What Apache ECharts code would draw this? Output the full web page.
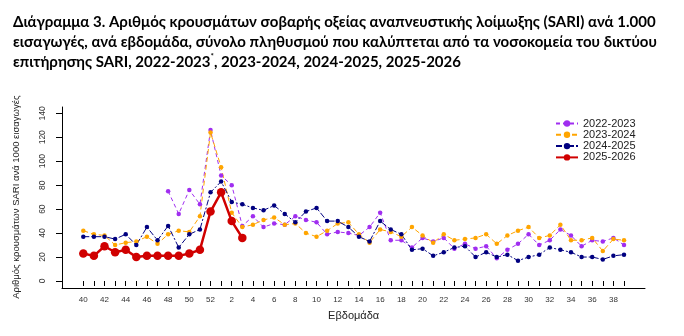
<!DOCTYPE html>
<html>
<head>
<meta charset="utf-8">
<script src="https://cdn.jsdelivr.net/npm/echarts@6/dist/echarts.min.js"></script>
<style>
html,body{margin:0;padding:0;background:#fff;}
#c{width:684px;height:336px;}
</style>
</head>
<body>
<div id="c"></div>
<script>
// Weeks: 40..52, 1..39
const weeks = ["40","41","42","43","44","45","46","47","48","49","50","51","52",
  "1","2","3","4","5","6","7","8","9","10","11","12","13","14","15","16","17","18","19",
  "20","21","22","23","24","25","26","27","28","29","30","31","32","33","34","35","36","37","38","39"];

const seriesNames = ["2022-2023","2023-2024","2024-2025","2025-2026"];

const s2022 = [null,null,null,null,null,null,null,null,
  75,56,76,64,126,88,80,46,54,45,48,47,54,51,49,39,41,40,38,45,57,34,34,28,36,33,36,
  27,31,27,29,19,26,31,39,30,34,43,38,29,34,33,36,30];

const s2023 = [42,39,38,30,32,33,37,31,39,42,41,54,124,95,57,45,47,51,53,47,48,40,37,42,48,49,
  39,32,43,41,37,45,38,32,39,34,35,36,39,31,38,42,45,36,38,47,34,34,36,25,35,34];

const s2024 = [37,37,37,35,39,30,45,34,46,28,39,43,74,83,66,64,61,59,63,56,49,58,61,50,50,45,
  37,33,50,43,39,26,27,21,24,28,29,20,24,20,22,17,20,22,28,26,24,20,20,18,21,22];

const s2025 = [23,21,29,24,26,20,21,21,21,21,23,26,58,74,50,36];

const yTicks = [0,20,40,60,80,100,120,140];

const chart = echarts.init(document.getElementById('c'), null, {renderer:'canvas'});

const titleText =
  "Διάγραμμα 3. Αριθμός κρουσμάτων σοβαρής οξείας αναπνευστικής λοίμωξης (SARI) ανά 1.000\n" +
  "εισαγωγές, ανά εβδομάδα, σύνολο πληθυσμού που καλύπτεται από τα νοσοκομεία του δικτύου\n" +
  "επιτήρησης SARI, 2022-2023{sup|*}, 2023-2024, 2024-2025, 2025-2026";

const smallStyle = (color, dash) => ({
  type:'line', xAxisIndex:1, yAxisIndex:1, symbol:'circle', symbolSize:4.5, showAllSymbol:true,
  lineStyle:{color:color, width:1, type:dash},
  itemStyle:{color:color}, connectNulls:false, animation:false
});

const option = {
  animation:false,
  title:{
    text:titleText, left:8, top:7,
    textStyle:{fontFamily:'Lato', fontWeight:'bold', fontSize:15, lineHeight:20, color:'#000',
      rich:{sup:{fontFamily:'Lato', fontWeight:'bold', fontSize:8, verticalAlign:'top', lineHeight:20, padding:[0,0,6,0]}}}
  },
  legend:{
    data:seriesNames, orient:'vertical', left:550, top:113,
    itemWidth:22, itemHeight:8, itemGap:0.3,
    textStyle:{fontFamily:'Liberation Sans', fontSize:11, color:'#222', lineHeight:11}
  },
  grid:[
    {left:62, right:39, top:107, bottom:48},
    {left:83.3, right:60, top:113.3, bottom:55}
  ],
  xAxis:[
    {type:'value', gridIndex:0, min:0, max:1, axisLine:{show:true, lineStyle:{color:'#000', width:1}},
      axisTick:{show:false}, axisLabel:{show:false}, splitLine:{show:false}},
    {type:'category', gridIndex:1, data:weeks, boundaryGap:false, offset:7,
      axisLine:{show:false}, axisTick:{show:true, interval:0, length:5, lineStyle:{color:'#000'}},
      axisLabel:{interval:1, fontFamily:'Liberation Sans', fontSize:8, color:'#333', margin:8},
      splitLine:{show:false},
      name:'Εβδομάδα', nameLocation:'middle', nameGap:22,
      nameTextStyle:{fontFamily:'Liberation Sans', fontSize:11, color:'#222'}}
  ],
  yAxis:[
    {type:'value', gridIndex:0, min:0, max:1, axisLine:{show:true, lineStyle:{color:'#000', width:1}},
      axisTick:{show:false}, axisLabel:{show:false}, splitLine:{show:false}},
    {type:'value', gridIndex:1, min:yTicks[0], max:yTicks[yTicks.length-1], interval:20, offset:21.3,
      axisLine:{show:false}, axisTick:{show:true, length:6, lineStyle:{color:'#000'}},
      axisLabel:{rotate:90, fontFamily:'Liberation Sans', fontSize:8.5, color:'#333', margin:15},
      splitLine:{show:false},
      name:'Αριθμός κρουσμάτων SARI ανά 1000 εισαγωγές', nameLocation:'middle', nameRotate:90, nameGap:41,
      nameTextStyle:{fontFamily:'Liberation Sans', fontSize:9.5, color:'#222'}}
  ],
  series:[
    Object.assign({name:seriesNames[0], data:s2022}, smallStyle('#a02ef0',[4,3])),
    Object.assign({name:seriesNames[1], data:s2023}, smallStyle('#ffa500',[5,3])),
    Object.assign({name:seriesNames[2], data:s2024}, smallStyle('#000080',[6,2,2,2])),
    {name:seriesNames[3], type:'line', xAxisIndex:1, yAxisIndex:1, data:s2025,
      symbol:'circle', symbolSize:8.5, showAllSymbol:true, lineStyle:{color:'#d00000', width:2.5},
      itemStyle:{color:'#d00000'}, z:5, animation:false}
  ]
};
chart.setOption(option);
</script>
</body>
</html>
